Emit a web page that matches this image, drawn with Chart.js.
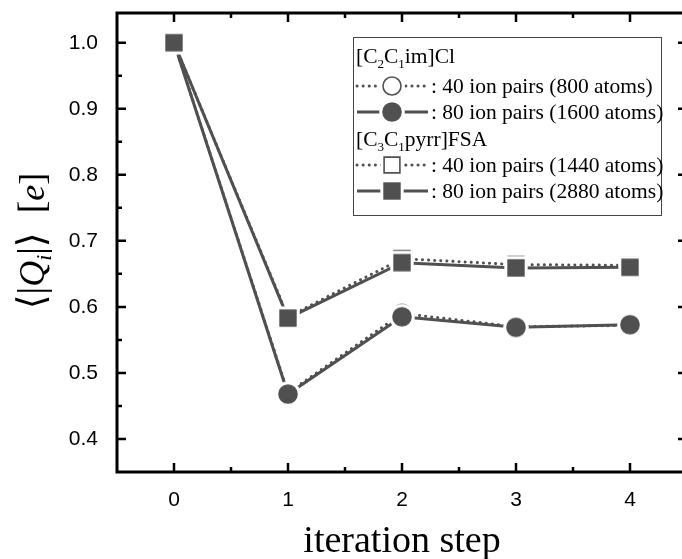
<!DOCTYPE html>
<html>
<head>
<meta charset="utf-8">
<script src="https://cdn.jsdelivr.net/npm/chart.js@4/dist/chart.umd.min.js"></script>
<style>
  html, body { margin: 0; padding: 0; background: #fff; overflow: hidden; }
  canvas { display: block; }
</style>
</head>
<body>
<canvas id="chart" width="700" height="559"></canvas>
<script>
// iteration steps on the x axis
const steps = [0, 1, 2, 3, 4];

// mean |Q_i| for each system
const im40 = [1.0, 0.470, 0.590, 0.570, 0.572];
const im80 = [1.0, 0.468, 0.585, 0.569, 0.573];
const pyrr40 = [1.0, 0.585, 0.673, 0.664, 0.663];
const pyrr80 = [1.0, 0.583, 0.667, 0.659, 0.660];

// tick marks
const xMajor = [0, 1, 2, 3, 4];
const xMinor = [0.5, 1.5, 2.5, 3.5];
const yMajor = [0.4, 0.5, 0.6, 0.7, 0.8, 0.9, 1.0];
const yMinor = [0.45, 0.55, 0.65, 0.75, 0.85, 0.95];

const GRAY = "#505050";

// marker images with a white halo so the lines stop short of the symbols
function makeMarker(shape, filled) {
    const c = document.createElement("canvas");
    c.width = 30; c.height = 30;
    const g = c.getContext("2d");
    const r = shape === "circle" ? 9.8 : 8.7;
    const path = (s) => {
        g.beginPath();
        if (shape === "circle") g.arc(15, 15, s, 0, Math.PI * 2);
        else g.rect(15 - s, 15 - s, 2 * s, 2 * s);
    };
    g.fillStyle = "#fff";
    path(r + 3);
    g.fill();
    if (filled) {
        g.fillStyle = GRAY;
        path(r);
        g.fill();
    } else {
        g.lineWidth = 1.6;
        g.strokeStyle = GRAY;
        path(r - 0.8);
        g.fill();
        g.stroke();
    }
    return c;
}

const markers = {
    openCircle: makeMarker("circle", false),
    fullCircle: makeMarker("circle", true),
    openSquare: makeMarker("square", false),
    fullSquare: makeMarker("square", true),
};

const dotted = [0.1, 6];

function series(data, marker, dash, order) {
    return {
        data: data.map((v, i) => ({ x: steps[i], y: v })),
        borderColor: GRAY,
        borderWidth: 3,
        borderDash: dash,
        borderCapStyle: dash.length ? "round" : "butt",
        pointStyle: marker,
        pointRadius: 10,
        order: order,
    };
}

// draws text with subscripts, parts = [[text, isSub], ...]
function drawRich(ctx, parts, x, y, size) {
    for (const [t, sub] of parts) {
        ctx.font = (sub ? Math.round(size * 0.62) : size) + "px 'Liberation Serif', serif";
        ctx.fillText(t, x, sub ? y + size * 0.22 : y);
        x += ctx.measureText(t).width;
    }
    return x;
}

const framePlugin = {
    id: "frame",
    afterDraw(chart) {
        const ctx = chart.ctx;
        const a = chart.chartArea;
        const xs = chart.scales.x, ys = chart.scales.y;
        ctx.save();

        // box and inward ticks
        ctx.strokeStyle = "#000";
        ctx.lineWidth = 3;
        ctx.strokeRect(a.left, a.top, a.right - a.left, a.bottom - a.top);
        ctx.lineWidth = 2.5;
        ctx.beginPath();
        const xt = (v, len) => {
            const p = xs.getPixelForValue(v);
            ctx.moveTo(p, a.bottom); ctx.lineTo(p, a.bottom - len);
            ctx.moveTo(p, a.top); ctx.lineTo(p, a.top + len);
        };
        const yt = (v, len) => {
            const p = ys.getPixelForValue(v);
            ctx.moveTo(a.left, p); ctx.lineTo(a.left + len, p);
            ctx.moveTo(a.right, p); ctx.lineTo(a.right - len, p);
        };
        xMajor.forEach(v => xt(v, 9));
        xMinor.forEach(v => xt(v, 5));
        yMajor.forEach(v => yt(v, 9));
        yMinor.forEach(v => yt(v, 5));
        ctx.stroke();

        // legend
        const L = { left: 353.5, top: 37.5, right: 661.5, bottom: 215.5 };
        ctx.fillStyle = "#fff";
        ctx.fillRect(L.left, L.top, L.right - L.left, L.bottom - L.top);
        ctx.strokeStyle = "#444";
        ctx.lineWidth = 1;
        ctx.strokeRect(L.left, L.top, L.right - L.left, L.bottom - L.top);

        ctx.fillStyle = "#000";
        ctx.textBaseline = "alphabetic";
        ctx.textAlign = "left";
        const fs = 21.5;
        const rows = [
            { head: [["[C"], ["2", 1], ["C"], ["1", 1], ["im]Cl"]] },
            { m: markers.openCircle, dash: dotted, text: ": 40 ion pairs (800 atoms)" },
            { m: markers.fullCircle, dash: [], text: ": 80 ion pairs (1600 atoms)" },
            { head: [["[C"], ["3", 1], ["C"], ["1", 1], ["pyrr]FSA"]] },
            { m: markers.openSquare, dash: dotted, text: ": 40 ion pairs (1440 atoms)" },
            { m: markers.fullSquare, dash: [], text: ": 80 ion pairs (2880 atoms)" },
        ];
        const rowY = [56, 86, 112, 139, 165, 191];
        rows.forEach((row, i) => {
            const cy = rowY[i];
            if (row.head) {
                drawRich(ctx, row.head, 356, cy + 7, fs);
                return;
            }
            ctx.strokeStyle = GRAY;
            ctx.lineWidth = 3;
            ctx.setLineDash(row.dash);
            ctx.lineCap = row.dash.length ? "round" : "butt";
            ctx.beginPath();
            ctx.moveTo(357, cy); ctx.lineTo(428, cy);
            ctx.stroke();
            ctx.setLineDash([]);
            ctx.drawImage(row.m, 392 - 15, cy - 15);
            ctx.font = fs + "px 'Liberation Serif', serif";
            ctx.fillText(row.text, 431, cy + 7);
        });

        // axis titles
        ctx.font = "38px 'Liberation Serif', serif";
        ctx.textAlign = "center";
        ctx.fillText("iteration step", xs.getPixelForValue(2), 552);

        ctx.translate(44, 241);
        ctx.rotate(-Math.PI / 2);
        const parts = [
            ["\u27E8|", "normal", 38, 0],
            ["Q", "italic", 36, 0],
            ["i", "italic", 22, 7],
            ["|\u27E9  [", "normal", 38, 0],
            ["e", "italic", 36, 0],
            ["]", "normal", 36, 0],
        ];
        const fontOf = p => p[1] + " " + p[2] + "px 'Liberation Serif', 'DejaVu Serif', serif";
        let total = 0;
        parts.forEach(p => { ctx.font = fontOf(p); total += ctx.measureText(p[0]).width; });
        let x = -total / 2;
        ctx.textAlign = "left";
        parts.forEach(p => {
            ctx.font = fontOf(p);
            ctx.fillText(p[0], x, p[3]);
            x += ctx.measureText(p[0]).width;
        });
        ctx.restore();
    },
};

new Chart(document.getElementById("chart"), {
    type: "line",
    data: {
        datasets: [
            series(pyrr80, markers.fullSquare, [], 0),
            series(pyrr40, markers.openSquare, dotted, 1),
            series(im80, markers.fullCircle, [], 2),
            series(im40, markers.openCircle, dotted, 3),
        ],
    },
    options: {
        responsive: false,
        animation: false,
        layout: { padding: { top: 13, right: 11, left: 0, bottom: 0 } },
        plugins: { legend: { display: false }, tooltip: { enabled: false } },
        scales: {
            x: {
                type: "linear",
                min: -0.5,
                max: 4.5,
                grid: { display: false },
                border: { display: false },
                afterBuildTicks: (s) => { s.ticks = xMajor.map(v => ({ value: v })); },
                afterFit: (s) => { s.height = 87; s.paddingLeft = 0; s.paddingRight = 0; },
                ticks: {
                    color: "#000",
                    padding: 8,
                    maxRotation: 0,
                    font: { family: "'Liberation Sans', Arial, sans-serif", size: 21 },
                    callback: (v) => String(v),
                },
            },
            y: {
                min: 0.35,
                max: 1.045,
                grid: { display: false },
                border: { display: false },
                afterBuildTicks: (s) => { s.ticks = yMajor.map(v => ({ value: v })); },
                afterFit: (s) => { s.width = 117; s.paddingTop = 0; s.paddingBottom = 0; },
                ticks: {
                    color: "#000",
                    padding: 11,
                    font: { family: "'Liberation Sans', Arial, sans-serif", size: 21 },
                    callback: (v) => v.toFixed(1),
                },
            },
        },
    },
    plugins: [framePlugin],
});
</script>
</body>
</html>
